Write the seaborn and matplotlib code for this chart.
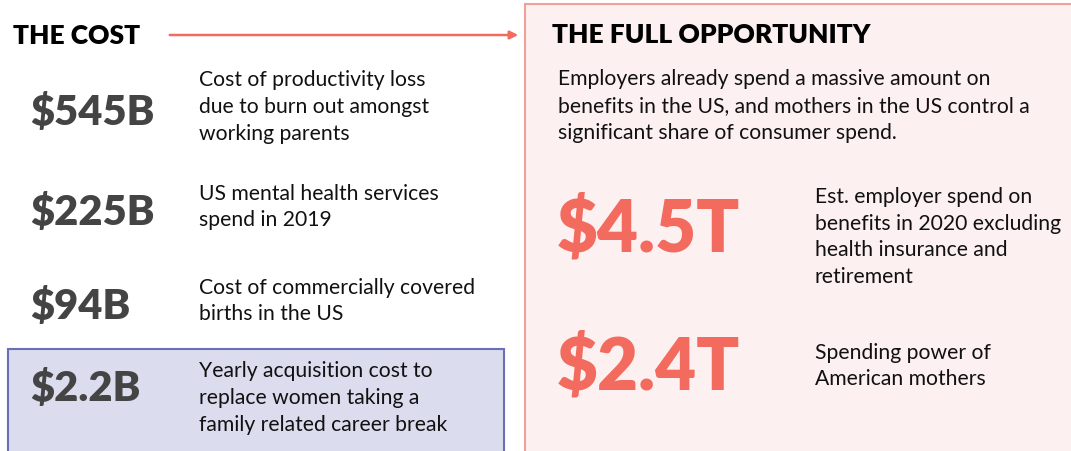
import matplotlib
matplotlib.use("Agg")
import matplotlib.pyplot as plt
import seaborn as sns
from matplotlib.patches import Rectangle, FancyArrowPatch

sns.set_theme(style="white")
plt.rcParams['font.family'] = ['Lato', 'DejaVu Sans']

# Data
cost_values = ['$545B', '$225B', '$94B', '$2.2B']
cost_labels = [
    ['Cost of productivity loss', 'due to burn out amongst', 'working parents'],
    ['US mental health services', 'spend in 2019'],
    ['Cost of commercially covered', 'births in the US'],
    ['Yearly acquisition cost to', 'replace women taking a', 'family related career break'],
]
opp_values = ['$4.5T', '$2.4T']
opp_labels = [
    ['Est. employer spend on', 'benefits in 2020 excluding', 'health insurance and', 'retirement'],
    ['Spending power of', 'American mothers'],
]
opp_intro = ['Employers already spend a massive amount on',
             'benefits in the US, and mothers in the US control a',
             'significant share of consumer spend.']

# Layout
cost_y = [113, 213, 306, 389]
cost_desc_y = [107, 207, 301, 398]
opp_y = [230, 368]
opp_desc_y = [237, 366]
line_step = 26.8
salmon = '#f26b5e'
dark = '#444444'

fig = plt.figure(figsize=(10.71, 4.51), dpi=100)
ax = fig.add_axes([0, 0, 1, 1])
ax.set_xlim(0, 1071)
ax.set_ylim(451, 0)
ax.axis('off')

# boxes
ax.add_patch(Rectangle((525, 4), 550, 460, facecolor='#fcf0f0', edgecolor='#f4a09a', lw=1.5))
ax.add_patch(Rectangle((8, 349), 496, 120, facecolor='#dcdcef', edgecolor='#6a70b5', lw=1.5))

# headers
ax.text(13, 36, 'THE COST', fontsize=19, fontweight='heavy', color='black', va='center')
ax.text(552, 35, 'THE FULL OPPORTUNITY', fontsize=19, fontweight='heavy', color='black', va='center')
ax.add_patch(FancyArrowPatch((167, 35), (521, 35), arrowstyle='-|>', mutation_scale=12,
                             color=salmon, lw=1.8))

for i, line in enumerate(opp_intro):
    ax.text(558, 79 + i * line_step, line, fontsize=15.2, color='#111111', va='center')


def desc(x, yc, lines):
    n = len(lines)
    y0 = yc - (n - 1) * line_step / 2
    for j, line in enumerate(lines):
        ax.text(x, y0 + j * line_step, line, fontsize=15.2, color='#111111', va='center')


for v, lab, y, yd in zip(cost_values, cost_labels, cost_y, cost_desc_y):
    ax.text(30, y, v, fontsize=30, fontweight='heavy', color=dark, va='center')
    desc(199, yd, lab)

for v, lab, y, yd in zip(opp_values, opp_labels, opp_y, opp_desc_y):
    ax.text(557, y, v, fontsize=51, fontweight='heavy', color=salmon, va='center')
    desc(815, yd, lab)

fig.savefig('out.png', dpi=100)
